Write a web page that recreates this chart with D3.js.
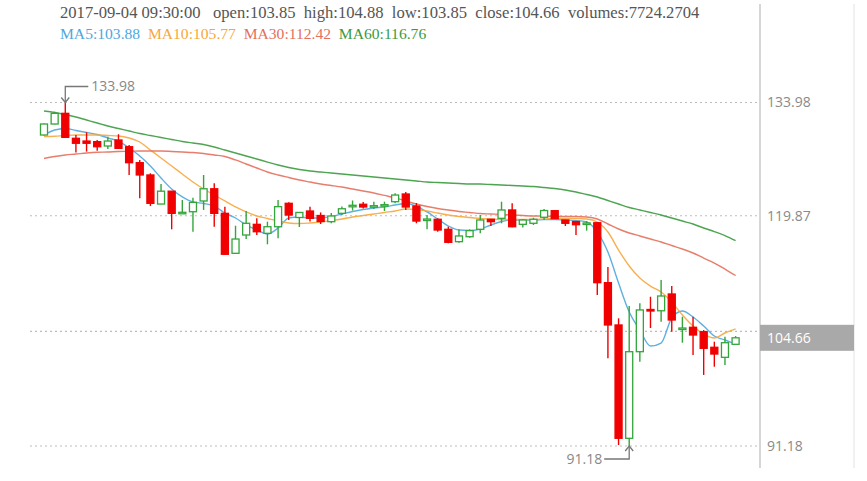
<!DOCTYPE html>
<html><head><meta charset="utf-8">
<script src="https://cdn.jsdelivr.net/npm/d3@7/dist/d3.min.js"></script>
<style>body{margin:0;background:#fff;overflow:hidden}</style>
</head><body><svg id="c" width="867" height="481"></svg>
<script>
// ---- data ----
const categories = d3.range(66);
const open  = [129.93,131.30,132.63,129.52,129.18,129.10,128.56,129.31,128.47,126.48,124.95,121.33,122.93,120.21,120.37,121.71,123.23,120.17,115.19,117.47,118.80,117.68,118.50,121.42,119.65,120.46,119.90,119.13,120.17,121.08,121.30,121.05,121.17,121.62,122.58,121.08,119.39,119.43,118.18,116.64,117.26,118.18,119.43,119.55,120.59,118.80,118.93,119.68,120.50,119.34,119.15,118.89,119.00,111.53,106.26,92.14,102.93,108.19,108.03,110.12,105.81,105.97,105.42,103.48,102.23,103.85];
const high  = [131.35,132.83,133.98,129.93,130.27,129.31,129.72,130.02,128.68,126.82,125.16,123.82,122.95,121.83,122.12,124.95,123.91,121.00,118.63,120.46,119.55,119.13,121.83,121.54,120.30,121.00,120.28,120.21,121.02,121.77,121.58,121.62,121.62,122.67,122.83,121.46,119.96,119.55,118.50,118.18,118.18,119.96,119.45,121.62,121.42,119.43,119.63,120.71,120.52,119.36,119.17,119.21,119.02,113.49,107.09,108.62,108.96,109.78,111.86,111.11,107.29,107.29,105.63,104.18,104.80,104.88];
const low   = [129.88,131.25,129.60,127.74,127.86,127.97,128.19,128.19,124.95,122.04,121.08,121.30,118.18,120.17,117.88,120.59,118.50,115.00,115.15,116.97,117.47,116.31,117.06,119.34,118.47,119.15,118.84,118.93,119.96,120.52,120.77,120.71,120.46,121.42,120.59,118.93,118.18,117.88,116.44,116.51,117.13,117.68,118.59,118.93,118.43,118.39,118.72,119.34,119.46,118.59,117.47,118.01,109.99,102.11,91.30,91.18,101.68,105.88,106.67,105.42,104.05,102.52,100.03,101.06,101.27,103.85];
const close = [131.30,132.63,129.64,128.90,128.90,128.47,129.18,128.27,126.48,124.95,121.42,122.93,120.17,120.30,121.54,123.23,120.17,115.07,116.97,118.93,117.88,118.50,121.00,119.96,120.28,119.55,119.15,119.84,120.74,121.17,120.96,121.12,121.25,122.45,120.96,119.21,119.46,118.09,116.56,117.35,118.01,119.34,119.13,120.59,118.50,119.34,119.43,120.52,119.50,118.93,118.75,118.97,111.53,106.26,92.14,102.93,108.13,108.00,109.87,106.88,105.88,105.01,103.35,102.64,104.05,104.66];
const ma5   = [129.93,130.55,130.74,130.49,130.24,129.99,129.56,129.18,128.31,127.31,126.07,124.57,123.20,122.21,121.58,121.40,121.08,120.21,119.59,118.72,118.09,117.59,118.34,119.59,119.71,119.59,119.59,119.78,120.09,120.40,120.65,120.84,120.96,121.21,121.40,121.08,120.34,119.46,118.59,118.09,118.03,118.22,118.72,119.15,119.34,119.34,119.34,119.40,119.40,119.34,119.28,119.09,117.84,115.35,111.49,107.88,105.63,103.64,104.01,107.13,108.00,107.25,106.13,104.89,104.39,103.88];
const ma10  = [129.74,129.78,129.87,129.93,129.93,129.93,129.87,129.81,129.56,129.06,128.06,127.06,126.07,125.07,124.07,123.20,122.45,121.71,120.96,120.34,119.84,119.53,119.21,118.97,118.90,118.97,119.09,119.28,119.46,119.71,119.90,120.09,120.28,120.46,120.71,120.65,120.46,120.21,119.96,119.78,119.65,119.53,119.46,119.40,119.40,119.40,119.40,119.46,119.53,119.53,119.53,119.46,119.09,117.84,115.60,113.61,112.11,111.11,110.37,109.12,107.50,106.13,105.14,104.64,105.26,105.77];
const ma30  = [127.00,127.25,127.44,127.56,127.69,127.78,127.81,127.88,127.90,127.94,127.94,127.94,127.88,127.81,127.75,127.63,127.44,127.25,126.82,126.32,125.82,125.32,124.95,124.63,124.32,124.07,123.82,123.64,123.45,123.20,122.96,122.71,122.40,122.09,121.71,121.33,121.02,120.77,120.59,120.40,120.28,120.15,120.09,120.03,119.96,119.90,119.84,119.84,119.78,119.78,119.78,119.71,119.46,118.84,118.22,117.72,117.35,116.97,116.60,116.16,115.73,115.23,114.60,113.98,113.23,112.42];
const ma60  = [132.92,132.73,132.48,132.17,131.80,131.43,131.05,130.74,130.43,130.12,129.87,129.62,129.37,129.12,128.93,128.75,128.44,128.06,127.69,127.31,126.94,126.56,126.19,125.88,125.63,125.44,125.32,125.20,125.07,124.95,124.82,124.70,124.57,124.45,124.32,124.20,124.07,124.01,123.95,123.89,123.82,123.82,123.76,123.70,123.64,123.57,123.51,123.39,123.26,123.08,122.83,122.52,122.21,121.77,121.33,120.90,120.59,120.28,119.96,119.59,119.21,118.84,118.34,117.90,117.40,116.76];
const yTickValues = [133.98, 119.87, 105.45, 91.18];
const yTickLabels = ["133.98", "119.87", "", "91.18"];
const maNames = ["MA5", "MA10", "MA30", "MA60"];
const maColors = ["#4ea7dc", "#f6a73c", "#e46f5a", "#3a9a3e"];
const headerTime = "2017-09-04 09:30:00";
const volume = "7724.2704";
const maxValue = 133.98, maxIndex = 2;
const minValue = 91.18, minIndex = 55;

// ---- chart ----
const svg = d3.select("#c");
const x = d3.scalePoint().domain(categories).range([44, 735.6]);
const y = d3.scaleLinear().domain([91.18, 133.98]).range([446, 102.5]);
const bodyW = x.step() * 0.66;
const UP = "#33a53a", DOWN = "#f00000";
const labelFont = "14px 'Open Sans', sans-serif";

// gridlines
svg.append("g").selectAll("line").data(yTickValues).join("line")
  .attr("x1", 30).attr("x2", 757)
  .attr("y1", d => y(d)).attr("y2", d => y(d))
  .attr("stroke", "#bdbdbd").attr("stroke-width", 1.2).attr("stroke-dasharray", "2,3");

// right axis
const axis = d3.axisRight(y).tickValues(yTickValues).tickSize(0).tickPadding(7)
  .tickFormat((d, i) => yTickLabels[i]);
const ag = svg.append("g").attr("transform", "translate(760,0)").call(axis);
ag.select(".domain").remove();
ag.selectAll("text").attr("fill", "#8a8a8a").style("font", labelFont);
svg.append("line").attr("x1", 760).attr("x2", 760).attr("y1", 4).attr("y2", 468)
  .attr("stroke", "#c8c8c8").attr("stroke-width", 1.5);
svg.append("line").attr("x1", 854).attr("x2", 854).attr("y1", 4).attr("y2", 468)
  .attr("stroke", "#e2e2e2").attr("stroke-width", 1);

// MA lines
const line = d3.line().x((d, i) => x(categories[i])).y(d => y(d)).curve(d3.curveMonotoneX);
[ma5, ma10, ma30, ma60].forEach((s, k) => {
  svg.append("path").datum(s).attr("d", line).attr("fill", "none")
    .attr("stroke", maColors[k]).attr("stroke-width", 1.4).attr("opacity", 0.9);
});

// candles
const cg = svg.append("g").selectAll("g").data(categories).join("g");
cg.append("line")
  .attr("x1", i => x(i)).attr("x2", i => x(i))
  .attr("y1", i => y(high[i])).attr("y2", i => y(low[i]))
  .attr("stroke", i => close[i] >= open[i] ? UP : DOWN).attr("stroke-width", 1.4);
cg.append("rect")
  .attr("x", i => x(i) - bodyW / 2).attr("width", bodyW)
  .attr("y", i => y(Math.max(open[i], close[i])))
  .attr("height", i => Math.max(1.5, Math.abs(y(open[i]) - y(close[i]))))
  .attr("fill", i => close[i] >= open[i] ? "#fff" : DOWN)
  .attr("stroke", i => close[i] >= open[i] ? UP : DOWN).attr("stroke-width", 1.3);

// current price marker
const last = close[close.length - 1];
svg.append("rect").attr("x", 760).attr("y", y(last) - 13).attr("width", 94).attr("height", 26)
  .attr("fill", "#a9a9a9");
svg.append("text").attr("x", 767).attr("y", y(last)).attr("dy", "0.35em")
  .attr("fill", "#fff").style("font", labelFont).text(last.toFixed(2));

// max / min annotations
const annC = "#777";
const mx = x(maxIndex), my = y(maxValue);
svg.append("path").attr("d", `M${mx + 23},${my - 16}H${mx}V${my}`).attr("fill", "none").attr("stroke", annC).attr("stroke-width", 1.3);
svg.append("path").attr("d", `M${mx - 4},${my - 5}L${mx},${my}L${mx + 4},${my - 5}`).attr("fill", "none").attr("stroke", annC).attr("stroke-width", 1.3);
svg.append("text").attr("x", mx + 26).attr("y", my - 16).attr("dy", "0.35em")
  .attr("fill", "#888").style("font", labelFont).text(maxValue.toFixed(2));
const nx = x(minIndex), ny = y(minValue);
svg.append("path").attr("d", `M${nx - 25},${ny + 13}H${nx}V${ny}`).attr("fill", "none").attr("stroke", annC).attr("stroke-width", 1.3);
svg.append("path").attr("d", `M${nx - 4},${ny + 5}L${nx},${ny}L${nx + 4},${ny + 5}`).attr("fill", "none").attr("stroke", annC).attr("stroke-width", 1.3);
svg.append("text").attr("x", nx - 27).attr("y", ny + 13).attr("dy", "0.35em").attr("text-anchor", "end")
  .attr("fill", "#888").style("font", labelFont).text(minValue.toFixed(2));

// header
const li = close.length - 1;
const h1 = svg.append("text").attr("x", 60).attr("y", 18).attr("fill", "#555")
  .style("font", "16.6px 'Liberation Serif', serif").style("white-space", "pre");
h1.text(`${headerTime}   open:${open[li].toFixed(2)}  high:${high[li].toFixed(2)}  low:${low[li].toFixed(2)}  close:${close[li].toFixed(2)}  volumes:${volume}`);
const h2 = svg.append("text").attr("x", 60).attr("y", 39)
  .style("font", "15.6px 'Liberation Serif', serif").style("white-space", "pre");
const maLast = [ma5, ma10, ma30, ma60].map(s => s[s.length - 1]);
maNames.forEach((n, k) => {
  h2.append("tspan").attr("fill", maColors[k]).text((k ? "  " : "") + `${n}:${maLast[k].toFixed(2)}`);
});
</script></body></html>
